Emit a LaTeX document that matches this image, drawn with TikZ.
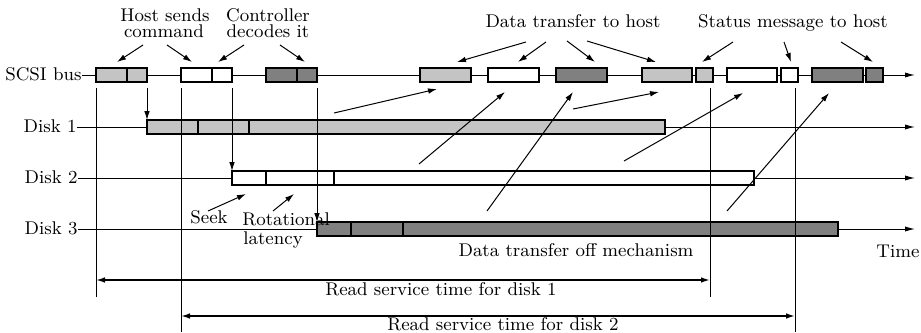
\documentclass[tikz,border=0pt]{standalone}
\usetikzlibrary{arrows.meta}
\definecolor{lightfill}{RGB}{196,196,196}
\definecolor{darkfill}{RGB}{128,128,128}
\newcommand\segbox[5]{\draw[#5] (#1,#3) rectangle (#2,#4);}
\begin{document}
\begin{tikzpicture}[x=0.5pt,y=-0.5pt,
  every node/.style={font=\fontsize{9.2}{9}\selectfont, inner sep=0pt},
  txt/.style={anchor=base},
  axisline/.style={line width=0.5pt, -{Latex[length=5pt,width=2.6pt]}},
  guide/.style={line width=0.45pt},
  ptr/.style={line width=0.5pt, -{Latex[length=4.5pt,width=2.8pt]}},
  span/.style={line width=0.8pt, {Latex[length=4.5pt,width=2.8pt]}-{Latex[length=4.5pt,width=2.8pt]}},
  lbox/.style={draw, line width=0.8pt, fill=lightfill},
  wbox/.style={draw, line width=0.8pt, fill=white},
  dbox/.style={draw, line width=0.8pt, fill=darkfill}]
\useasboundingbox (0,0) rectangle (921,332);

% axis labels
\node[anchor=base east] (scsi) at (82,80) {SCSI bus};
\node[anchor=base east] (d1) at (77,132) {Disk 1};
\node[anchor=base east] (d2) at (78,183) {Disk 2};
\node[anchor=base east] (d3) at (78,234) {Disk 3};

\coordinate (busend) at (915,75);
\coordinate (d1end) at (915,127);
\coordinate (d2end) at (915,178);
\coordinate (d3end) at (915,229);

\draw[axisline] (scsi.east |- busend) -- (busend);
\draw[axisline] (d1.east |- d1end) -- (d1end);
\draw[axisline] (d2.east |- d2end) -- (d2end);
\draw[axisline] (d3.east |- d3end) -- (d3end);

% bus boxes
\segbox{96}{127}{68}{82}{lbox}
\segbox{127}{147}{68}{82}{lbox}
\segbox{181}{212}{68}{82}{wbox}
\segbox{212}{232}{68}{82}{wbox}
\segbox{266}{297}{68}{82}{dbox}
\segbox{297}{317}{68}{82}{dbox}
\segbox{420}{471}{68}{82}{lbox}
\segbox{488}{539}{68}{82}{wbox}
\segbox{556}{607}{68}{82}{dbox}
\segbox{642}{692}{68}{82}{lbox}
\segbox{696}{713}{68}{82}{lbox}
\segbox{727}{777}{68}{82}{wbox}
\segbox{781}{798}{68}{82}{wbox}
\segbox{812}{863}{68}{82}{dbox}
\segbox{866}{883}{68}{82}{dbox}

% disk boxes
\segbox{147}{198}{120}{134}{lbox}
\segbox{198}{249}{120}{134}{lbox}
\segbox{249}{665}{120}{134}{lbox}
\segbox{232}{266}{171}{185}{wbox}
\segbox{266}{334}{171}{185}{wbox}
\segbox{334}{754}{171}{185}{wbox}
\segbox{317}{351}{222}{236}{dbox}
\segbox{351}{403}{222}{236}{dbox}
\segbox{403}{838}{222}{236}{dbox}

% vertical guides
\draw[guide] (96,88) -- (96,297);
\draw[guide] (181,88) -- (181,332);
\draw[guide] (710,88) -- (710,297);
\draw[guide] (795,88) -- (795,332);
\draw[ptr] (147,88) -- (147,120);
\draw[ptr] (232,88) -- (232,171);
\draw[ptr] (317,88) -- (317,222);

% transfers from disks to bus
\draw[ptr] (334,113) -- (437,89);
\draw[ptr] (419,164) -- (505,92);
\draw[ptr] (487,211) -- (573,92);
\draw[ptr] (573,109) -- (659,92);
\draw[ptr] (624,161) -- (743,93);
\draw[ptr] (727,211) -- (829,93);

% top labels
\node[txt] (hs1) at (165,21) {Host sends};
\node[txt] (hs2) at (164,38) {command};
\node[txt] (cd1) at (268,21) {Controller};
\node[txt] (cd2) at (268,38) {decodes it};
\node[txt] (dt) at (573,27) {Data transfer to host};
\node[txt] (sm) at (793,27) {Status message to host};

\draw[ptr] (143,45) -- (117,62);
\draw[ptr] (167,45) -- (192,62);
\draw[ptr] (244,45) -- (218,62);
\draw[ptr] (280,45) -- (305,62);
\draw[ptr] (526,42) -- (457,62);
\draw[ptr] (546,42) -- (518,62);
\draw[ptr] (567,41) -- (595,62);
\draw[ptr] (587,41) -- (656,62);
\draw[ptr] (733,42) -- (702,62);
\draw[ptr] (784,42) -- (791,62);
\draw[ptr] (841,42) -- (873,62);

% seek / rotational
\node[anchor=base west] (seek) at (190,223) {Seek};
\node[anchor=base west] (rot1) at (242,225) {Rotational};
\node[anchor=base west] (rot2) at (243,244) {latency};
\draw[ptr] (208,211) -- (246,194);
\draw[ptr] (273,211) -- (294,194);

\node[txt] (dtm) at (576,256) {Data transfer off mechanism};
\node[txt] (time) at (898,257) {Time};

% service times
\draw[span] (96,280) -- (710,280);
\node[txt] (rs1) at (441,295) {Read service time for disk 1};
\draw[span] (181,316) -- (795,316);
\node[txt] (rs2) at (503,330) {Read service time for disk 2};
\end{tikzpicture}
\end{document}
